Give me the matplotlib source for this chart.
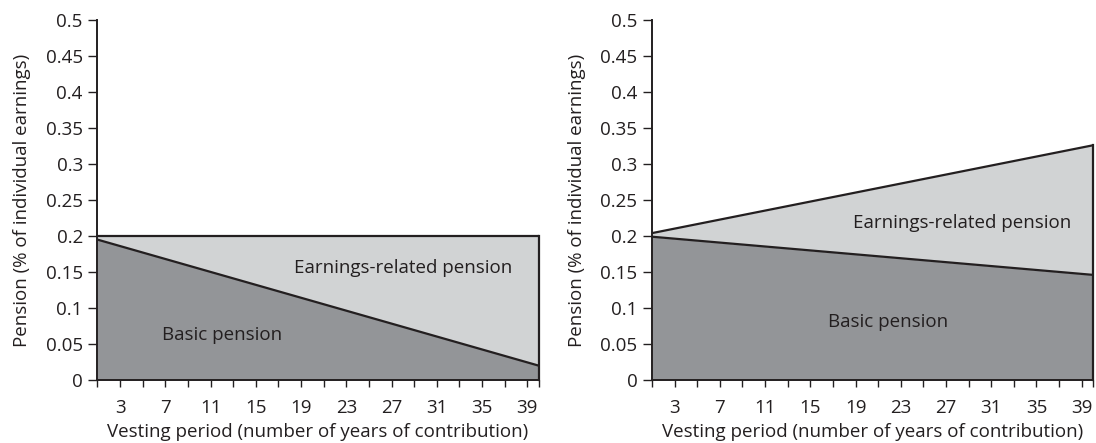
import matplotlib
matplotlib.use("Agg")
import matplotlib.pyplot as plt

plt.rcParams['font.family'] = ['Open Sans', 'DejaVu Sans']

# Data (linear schedules, endpoints)
years = [1, 40]
left_basic = [0.195, 0.02]
left_total = [0.2, 0.2]
right_basic = [0.199, 0.146]
right_total = [0.204, 0.326]

yticks = [0, 0.05, 0.1, 0.15, 0.2, 0.25, 0.3, 0.35, 0.4, 0.45, 0.5]
ytick_labels = ['0', '0.05', '0.1', '0.15', '0.2', '0.25', '0.3', '0.35', '0.4', '0.45', '0.5']
xticks_minor = list(range(1, 41, 2))
xtick_major = [3, 7, 11, 15, 19, 23, 27, 31, 35, 39]

ylabel = "Pension (% of individual earnings)"
xlabel = "Vesting period (number of years of contribution)"
label_earn = "Earnings-related pension"
label_basic = "Basic pension"

DARK = '#939598'
LIGHT = '#d1d3d4'
INK = '#231f20'

FS = 13.5

fig = plt.figure(figsize=(10.96, 4.43), dpi=100)
ax1 = fig.add_axes([0.0889, 0.1422, 0.4025, 0.8127])
ax2 = fig.add_axes([0.5949, 0.1422, 0.4024, 0.8127])

def draw(ax, basic, total, earn_pos, basic_pos):
    ax.fill_between(years, 0, basic, color=DARK, linewidth=0)
    ax.fill_between(years, basic, total, color=LIGHT, linewidth=0)
    ax.plot(years, basic, color=INK, lw=1.6, solid_capstyle='butt')
    ax.plot(years, total, color=INK, lw=1.6, solid_capstyle='butt')
    ax.plot([years[-1], years[-1]], [0, total[-1]], color=INK, lw=1.6, clip_on=False)
    ax.set_xlim(years[0], years[-1])
    ax.set_ylim(0, 0.5)
    for s in ['top', 'right']:
        ax.spines[s].set_visible(False)
    for s in ['left', 'bottom']:
        ax.spines[s].set_color(INK)
        ax.spines[s].set_linewidth(1.4)
    ax.set_yticks(yticks)
    ax.set_yticklabels(ytick_labels)
    ax.set_xticks(xticks_minor + [40])
    ax.set_xticklabels([str(t) if t in xtick_major else '' for t in xticks_minor] + [''])
    ax.tick_params(axis='y', direction='out', length=6.5, width=1.0, color=INK,
                   labelsize=FS, labelcolor=INK, pad=4)
    ax.tick_params(axis='x', direction='out', length=5, width=1.0, color=INK,
                   labelsize=FS, labelcolor=INK, pad=9)
    ax.set_ylabel(ylabel, fontsize=FS, color=INK, va='center')
    ax.set_xlabel(xlabel, fontsize=FS, color=INK, va='baseline')
    ax.yaxis.set_label_coords(-0.171, 0.5)
    ax.xaxis.set_label_coords(0.5, -0.158)
    ax.text(earn_pos[0], earn_pos[1], label_earn, ha='center', va='center', fontsize=FS, color=INK)
    ax.text(basic_pos[0], basic_pos[1], label_basic, ha='center', va='center', fontsize=FS, color=INK)

draw(ax1, left_basic, left_total, (28.0, 0.156), (12.0, 0.062))
draw(ax2, right_basic, right_total, (28.4, 0.2175), (21.9, 0.081))

fig.savefig('out.png', dpi=100)
